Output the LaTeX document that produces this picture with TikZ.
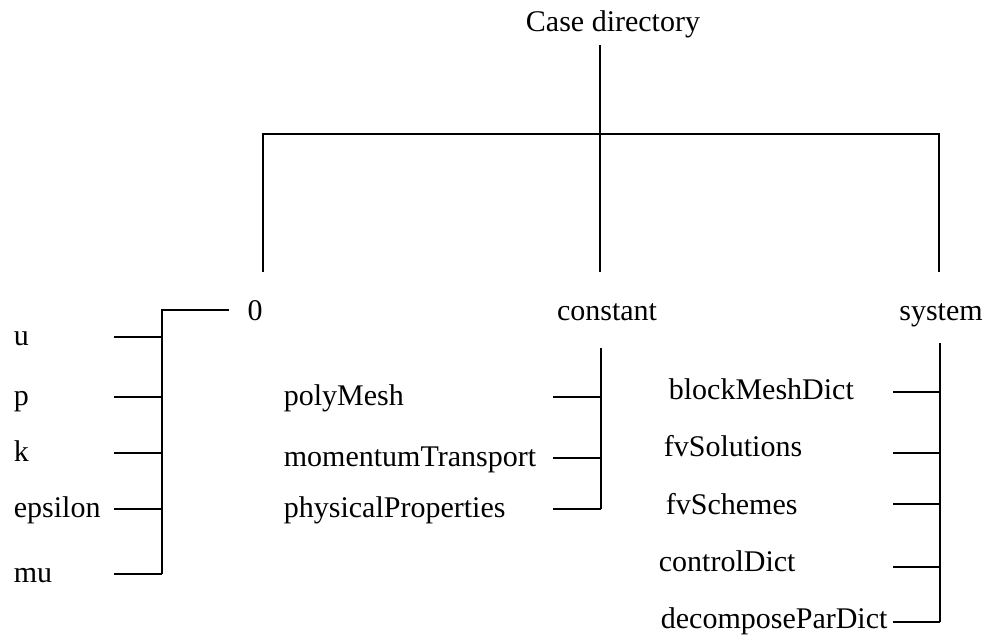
\documentclass[tikz,border=0pt]{standalone}
\usepackage{fontspec}
\setmainfont{Liberation Serif}
\usetikzlibrary{calc,positioning}

\tikzset{lbl/.style={inner sep=0pt,font=\fontsize{17.07pt}{20pt}\selectfont},
  dir/.style={lbl,anchor=base},
  file/.style={lbl,anchor=mid west,yshift=-2.8pt}}

\begin{document}
\begin{tikzpicture}[line width=1pt]
\useasboundingbox (0,0) rectangle (19.78,12.78);
%% root and the three sub-directories
\node[dir] (case) at (12.26,12.14) {Case directory};
\node[dir] (zero) at (5.10,6.38) {0};
\node[dir] (const) at (12.14,6.38) {constant};
\node[dir] (sys) at (18.82,6.38) {system};
\coordinate (rt) at (12.0,11.88);\coordinate (rb) at (12.0,7.34);
\coordinate (bl) at (5.26,10.10);\coordinate (br) at (18.78,10.10);
\coordinate (zl) at (5.26,7.34);\coordinate (sl) at (18.78,7.34);
\draw (rt)--(rb);
\draw (zl)--(bl)--(br)--(sl);
%% 0
\coordinate (zt) at (4.58,6.58);\coordinate (zj) at (3.24,6.58);\coordinate (zb) at (3.24,1.30);
\draw (zt)--(zj)--(zb);
\foreach \n/\y/\t in {u/6.04/u,p/4.84/p,k/3.72/k,eps/2.60/epsilon,mu/1.30/mu}
{\node[file] (\n) at (0.26,\y) {\t};
 \coordinate (\n-end) at (2.28,\y);
 \draw (\n-end)--(\n-end -| zj);}
%% constant
\coordinate (ct) at (12.02,5.82);\coordinate (cb) at (12.02,2.60);
\draw (ct)--(cb);
\foreach \n/\y/\t in {mesh/4.84/polyMesh,mom/3.62/momentumTransport,phys/2.60/physicalProperties}
{\node[file] (\n) at (5.66,\y) {\t};
 \coordinate (\n-end) at (11.06,\y);
 \draw (\n-end)--(\n-end -| ct);}
%% system
\coordinate (st) at (18.80,5.92);\coordinate (sb) at (18.80,0.34);
\draw (st)--(sb);
\foreach \n/\x/\ly/\y/\t in {bmd/13.36/4.96/4.94/blockMeshDict,sol/13.26/3.82/3.72/fvSolutions,
  sch/13.30/2.66/2.70/fvSchemes,ctl/13.16/1.52/1.44/controlDict,dec/13.20/0.38/0.34/decomposeParDict}
{\node[file] (\n) at (\x,\ly) {\t};
 \coordinate (\n-end) at (17.86,\y);
 \draw (\n-end)--(\n-end -| st);}
\end{tikzpicture}
\end{document}
